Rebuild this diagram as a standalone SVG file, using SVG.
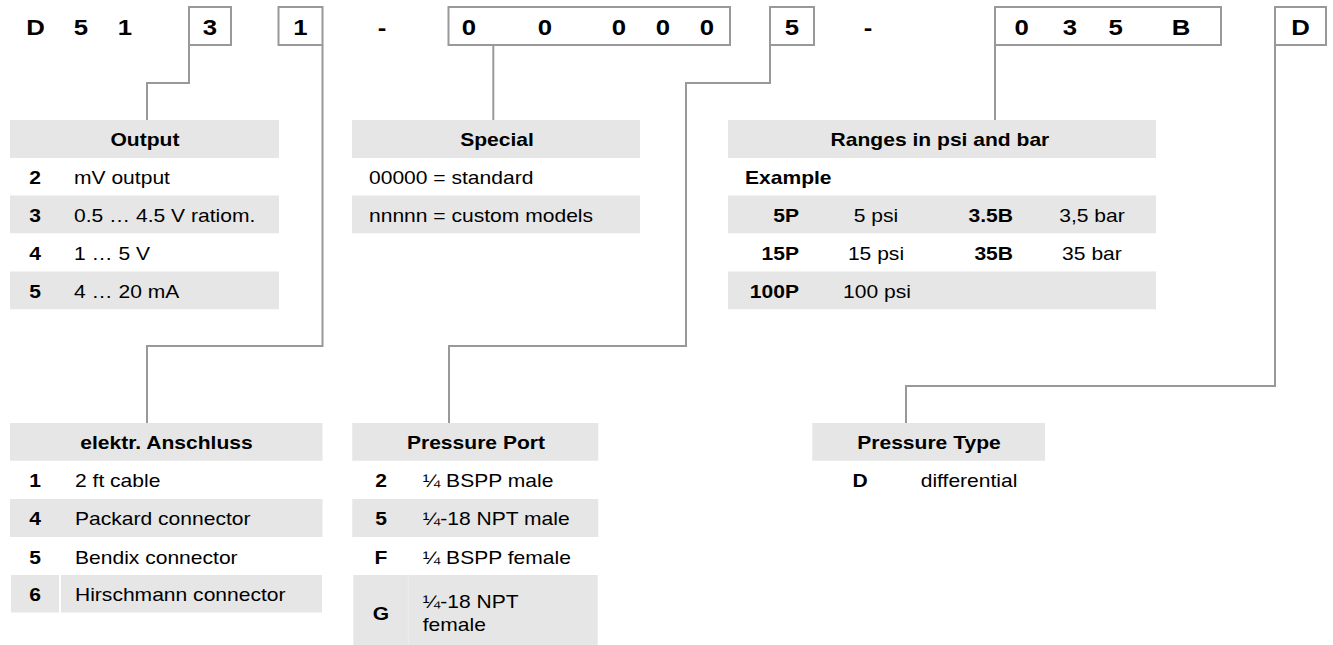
<svg xmlns="http://www.w3.org/2000/svg" width="1333" height="645" viewBox="0 0 1333 645">
<style>
text{font-family:"Liberation Sans",Arial,sans-serif;font-size:18px;fill:#000;transform-box:fill-box;transform:scaleX(1.17)}
.b{font-weight:bold}
.t{font-weight:bold;font-size:22px}
.s{text-anchor:start;transform-origin:left center}
.m{text-anchor:middle;transform-origin:center}
.e{text-anchor:end;transform-origin:right center}
.g{fill:#e6e6e6}
.box{fill:none;stroke:#999;stroke-width:2}
.con path{fill:none;stroke:#999;stroke-width:2}
</style>
<rect width="1333" height="645" fill="#fff"/>

<g id="code">
  <text class="t m" x="35.5" y="35">D</text>
  <text class="t m" x="81" y="35">5</text>
  <text class="t m" x="125" y="35">1</text>
  <rect class="box" x="189" y="7" width="42" height="38"/>
  <text class="t m" x="210" y="35">3</text>
  <rect class="box" x="278.5" y="7" width="44" height="38"/>
  <text class="t m" x="300.5" y="35">1</text>
  <text class="t m" x="382" y="35">-</text>
  <rect class="box" x="448.5" y="7" width="281.5" height="38"/>
  <text class="t m" x="469" y="35">0</text>
  <text class="t m" x="545" y="35">0</text>
  <text class="t m" x="619" y="35">0</text>
  <text class="t m" x="663" y="35">0</text>
  <text class="t m" x="707" y="35">0</text>
  <rect class="box" x="770" y="7" width="44" height="38"/>
  <text class="t m" x="792" y="35">5</text>
  <text class="t m" x="868" y="35">-</text>
  <rect class="box" x="995" y="7" width="226" height="38"/>
  <text class="t m" x="1021.7" y="35">0</text>
  <text class="t m" x="1070" y="35">3</text>
  <text class="t m" x="1115.7" y="35">5</text>
  <text class="t m" x="1181" y="35">B</text>
  <rect class="box" x="1275" y="7" width="51" height="38"/>
  <text class="t m" x="1300.5" y="35">D</text>
</g>

<g id="connectors" class="con">
  <path d="M189,45 V83 H147 V120"/>
  <path d="M322.5,45 V346 H147 V423"/>
  <path d="M493.3,45 V120"/>
  <path d="M770,45 V83 H686 V346 H449 V423"/>
  <path d="M995,45 V120"/>
  <path d="M1275,45 V386 H906 V423"/>
</g>

<g id="output">
  <rect class="g" x="10" y="120" width="269" height="38"/>
  <text class="b m" x="145" y="146.5">Output</text>
  <text class="b m" x="35" y="184.5">2</text>
  <text class="s" x="74" y="184.5">mV output</text>
  <rect class="g" x="10" y="195.5" width="269" height="37.8"/>
  <text class="b m" x="35" y="222.5">3</text>
  <text class="s" x="74" y="222.5">0.5 … 4.5 V ratiom.</text>
  <text class="b m" x="35" y="260.5">4</text>
  <text class="s" x="74" y="260.5">1 … 5 V</text>
  <rect class="g" x="10" y="271.5" width="269" height="37.8"/>
  <text class="b m" x="35" y="298.5">5</text>
  <text class="s" x="74" y="298.5">4 … 20 mA</text>
</g>

<g id="special">
  <rect class="g" x="352" y="120" width="288" height="38"/>
  <text class="b m" x="497" y="146.5">Special</text>
  <text class="s" x="369" y="184.5">00000 = standard</text>
  <rect class="g" x="352" y="195.5" width="288" height="37.8"/>
  <text class="s" x="369" y="222.5">nnnnn = custom models</text>
</g>

<g id="ranges">
  <rect class="g" x="728" y="120" width="428" height="38"/>
  <text class="b m" x="940" y="146.5">Ranges in psi and bar</text>
  <text class="b s" x="745" y="184.5">Example</text>
  <rect class="g" x="728" y="195.5" width="428" height="37.8"/>
  <text class="b e" x="799" y="222.5">5P</text>
  <text class="m" x="876" y="222.5">5 psi</text>
  <text class="b e" x="1013" y="222.5">3.5B</text>
  <text class="m" x="1092" y="222.5">3,5 bar</text>
  <text class="b e" x="799" y="260.5">15P</text>
  <text class="m" x="876" y="260.5">15 psi</text>
  <text class="b e" x="1013" y="260.5">35B</text>
  <text class="m" x="1092" y="260.5">35 bar</text>
  <rect class="g" x="728" y="271.5" width="428" height="37.8"/>
  <text class="b e" x="799" y="298.5">100P</text>
  <text class="m" x="877" y="298.5">100 psi</text>
</g>

<g id="anschluss">
  <rect class="g" x="10" y="423" width="312.5" height="37.7"/>
  <text class="b m" x="166.5" y="449.5">elektr. Anschluss</text>
  <text class="b m" x="35" y="486.8">1</text>
  <text class="s" x="75" y="486.8">2 ft cable</text>
  <rect class="g" x="10" y="499" width="312.5" height="38"/>
  <text class="b m" x="35" y="525.5">4</text>
  <text class="s" x="75" y="525.5">Packard connector</text>
  <text class="b m" x="35" y="564">5</text>
  <text class="s" x="75" y="564">Bendix connector</text>
  <rect class="g" x="11" y="575" width="48" height="37.5"/>
  <rect class="g" x="61" y="575" width="261" height="37.5"/>
  <text class="b m" x="35" y="601">6</text>
  <text class="s" x="75" y="601">Hirschmann connector</text>
</g>

<g id="port">
  <rect class="g" x="352.3" y="423" width="246" height="37.7"/>
  <text class="b m" x="476" y="449.5">Pressure Port</text>
  <text class="b m" x="381" y="486.8">2</text>
  <text class="s" x="422.7" y="486.8">¼ BSPP male</text>
  <rect class="g" x="352.3" y="499" width="246" height="38"/>
  <text class="b m" x="381" y="525.5">5</text>
  <text class="s" x="422.7" y="525.5">¼-18 NPT male</text>
  <text class="b m" x="381" y="564">F</text>
  <text class="s" x="422.7" y="564">¼ BSPP female</text>
  <rect class="g" x="353.3" y="575" width="244.4" height="70"/>
  <line x1="408.3" y1="575" x2="408.3" y2="645" stroke="#eeeeee" stroke-width="1"/>
  <text class="b m" x="381" y="620">G</text>
  <text class="s" x="422.7" y="608.3">¼-18 NPT</text>
  <text class="s" x="422.7" y="630.7">female</text>
</g>

<g id="type">
  <rect class="g" x="812.3" y="423" width="232.7" height="37.7"/>
  <text class="b m" x="929" y="449.5">Pressure Type</text>
  <text class="b m" x="860" y="486.7">D</text>
  <text class="s" x="920.7" y="486.7">differential</text>
</g>
</svg>
